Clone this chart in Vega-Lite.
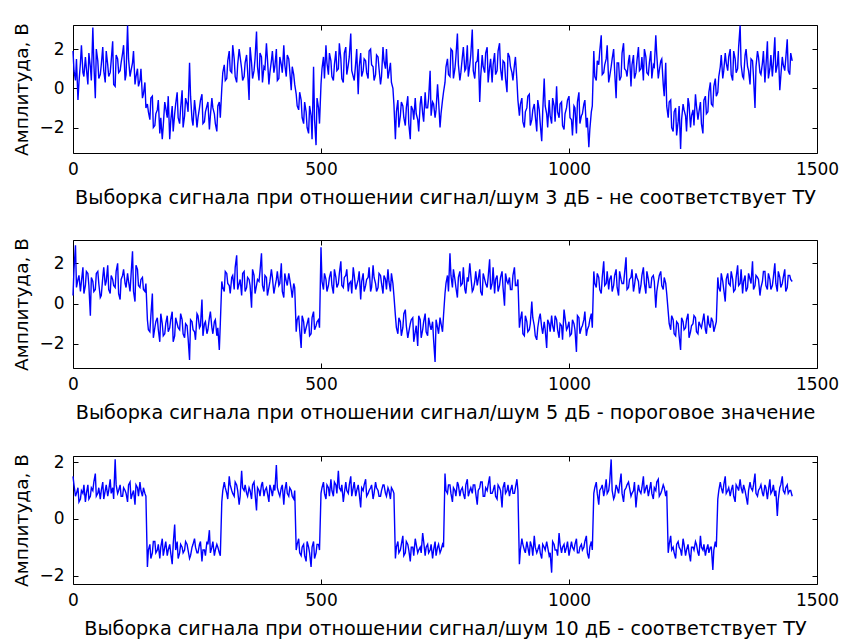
{
"$schema": "https://vega.github.io/schema/vega-lite/v6.json",
"background": "white",
"padding": {"left": 12, "top": 22, "right": 5, "bottom": 5},
"spacing": 29,
"config": {
 "view": {"stroke": "#000", "strokeWidth": 1},
 "axis": {"domain": false, "grid": false, "labelFont": "DejaVu Sans", "labelFontSize": 17, "labelColor": "#000", "labelFlush": false, "labelOverlap": false, "titleFont": "DejaVu Sans", "titleFontSize": 19.2, "titleFontWeight": "normal", "titleColor": "#000", "tickColor": "#000", "tickSize": -5, "tickWidth": 1},
 "axisX": {"format": "d"},
 "axisY": {"titleFontSize": 18.5}
},
"datasets": {
"s3": [
{"x":0,"y":1.9},{"x":5,"y":0.4},{"x":10,"y":-0.6},{"x":15,"y":1.3},{"x":20,"y":0.8},{"x":25,"y":1.6},{"x":30,"y":0.2},{"x":35,"y":1.1},{"x":40,"y":3.1},{"x":45,"y":-0.5},{"x":50,"y":1.4},{"x":55,"y":0.7},{"x":60,"y":2.1},{"x":65,"y":0.3},{"x":70,"y":1.2},{"x":75,"y":0.8},{"x":80,"y":2.4},{"x":85,"y":0.1},{"x":90,"y":1.5},{"x":95,"y":0.9},{"x":100,"y":1.8},{"x":105,"y":0.4},{"x":110,"y":3.2},{"x":115,"y":0.6},{"x":120,"y":1.3},{"x":125,"y":0.2},{"x":130,"y":1.0},{"x":135,"y":0.4},{"x":140,"y":-0.5},{"x":145,"y":0.3},
{"x":150,"y":-0.8},{"x":155,"y":-1.6},{"x":160,"y":-0.4},{"x":165,"y":-1.9},{"x":170,"y":-1.1},{"x":175,"y":-2.3},{"x":180,"y":-2.6},{"x":185,"y":-0.7},{"x":190,"y":-1.5},{"x":195,"y":-2.6},{"x":200,"y":-0.9},{"x":205,"y":-1.3},{"x":210,"y":-0.2},{"x":215,"y":-1.8},{"x":220,"y":-0.1},{"x":225,"y":-1.4},{"x":230,"y":-0.8},{"x":235,"y":1.3},{"x":240,"y":-1.6},{"x":245,"y":-0.6},{"x":250,"y":-2.0},{"x":255,"y":-1.0},{"x":260,"y":-0.3},{"x":265,"y":-1.7},{"x":270,"y":-0.9},{"x":275,"y":-2.1},{"x":280,"y":-0.5},{"x":285,"y":-1.3},{"x":290,"y":-2.2},{"x":295,"y":-0.7},
{"x":300,"y":0.0},{"x":305,"y":1.2},{"x":310,"y":0.5},{"x":315,"y":1.9},{"x":320,"y":0.8},{"x":325,"y":1.5},{"x":330,"y":0.3},{"x":335,"y":2.0},{"x":340,"y":1.0},{"x":345,"y":0.6},{"x":350,"y":1.7},{"x":355,"y":-0.6},{"x":360,"y":1.3},{"x":365,"y":0.9},{"x":370,"y":2.9},{"x":375,"y":0.4},{"x":380,"y":1.6},{"x":385,"y":1.1},{"x":390,"y":2.3},{"x":395,"y":0.2},{"x":400,"y":1.4},{"x":405,"y":0.8},{"x":410,"y":2.0},{"x":415,"y":0.5},{"x":420,"y":1.2},{"x":425,"y":2.2},{"x":430,"y":0.6},{"x":435,"y":1.5},{"x":440,"y":-0.1},{"x":445,"y":0.7},
{"x":450,"y":-0.3},{"x":455,"y":-1.1},{"x":460,"y":-0.6},{"x":465,"y":-1.8},{"x":470,"y":-1.2},{"x":475,"y":-2.3},{"x":480,"y":-1.4},{"x":485,"y":1.1},{"x":490,"y":-2.9},{"x":495,"y":-1.0},
{"x":500,"y":0.2},{"x":505,"y":1.6},{"x":510,"y":2.2},{"x":515,"y":0.7},{"x":520,"y":1.4},{"x":525,"y":0.4},{"x":530,"y":1.9},{"x":535,"y":1.0},{"x":540,"y":1.5},{"x":545,"y":0.3},{"x":550,"y":2.1},{"x":555,"y":1.2},{"x":560,"y":2.8},{"x":565,"y":0.6},{"x":570,"y":1.3},{"x":575,"y":-0.3},{"x":580,"y":1.8},{"x":585,"y":0.9},{"x":590,"y":1.4},{"x":595,"y":0.5},{"x":600,"y":2.0},{"x":605,"y":1.1},{"x":610,"y":0.7},{"x":615,"y":1.6},{"x":620,"y":0.2},{"x":625,"y":2.1},{"x":630,"y":1.0},{"x":635,"y":0.5},{"x":640,"y":1.3},{"x":645,"y":0.0},
{"x":650,"y":-2.6},{"x":655,"y":-0.6},{"x":660,"y":-1.4},{"x":665,"y":-0.9},{"x":670,"y":-1.9},{"x":675,"y":-0.4},{"x":680,"y":-2.6},{"x":685,"y":-1.1},{"x":690,"y":-0.5},{"x":695,"y":-1.6},{"x":700,"y":-0.8},{"x":705,"y":-1.3},{"x":710,"y":-0.2},{"x":715,"y":-1.0},{"x":720,"y":0.9},{"x":725,"y":-0.7},{"x":730,"y":-1.5},{"x":735,"y":0.2},{"x":740,"y":-2.0},{"x":745,"y":-0.6},
{"x":750,"y":0.3},{"x":755,"y":1.5},{"x":760,"y":0.6},{"x":765,"y":1.9},{"x":770,"y":1.0},{"x":775,"y":2.8},{"x":780,"y":0.4},{"x":785,"y":1.6},{"x":790,"y":0.9},{"x":795,"y":2.2},{"x":800,"y":1.2},{"x":805,"y":3.0},{"x":810,"y":0.5},{"x":815,"y":1.4},{"x":820,"y":-0.7},{"x":825,"y":1.7},{"x":830,"y":0.8},{"x":835,"y":2.1},{"x":840,"y":1.1},{"x":845,"y":0.3},{"x":850,"y":1.8},{"x":855,"y":0.9},{"x":860,"y":2.3},{"x":865,"y":0.4},{"x":870,"y":1.3},{"x":875,"y":-0.2},{"x":880,"y":1.6},{"x":885,"y":0.8},{"x":890,"y":1.2},{"x":895,"y":0.4},
{"x":900,"y":-1.4},{"x":905,"y":-0.5},{"x":910,"y":-2.0},{"x":915,"y":-1.0},{"x":920,"y":-0.3},{"x":925,"y":-1.6},{"x":930,"y":-0.8},{"x":935,"y":-2.2},{"x":940,"y":-1.1},{"x":945,"y":-2.7},{"x":950,"y":0.5},{"x":955,"y":-1.3},{"x":960,"y":-0.6},{"x":965,"y":-1.8},{"x":970,"y":-0.9},{"x":975,"y":0.1},{"x":980,"y":-1.5},{"x":985,"y":-0.7},{"x":990,"y":-2.1},{"x":995,"y":-1.0},{"x":1000,"y":-0.4},{"x":1005,"y":-1.6},{"x":1010,"y":-0.9},{"x":1015,"y":-2.3},{"x":1020,"y":-0.2},{"x":1025,"y":-1.4},{"x":1030,"y":-0.8},{"x":1035,"y":-2.0},{"x":1040,"y":-3.0},{"x":1045,"y":-1.2},
{"x":1050,"y":1.9},{"x":1055,"y":0.4},{"x":1060,"y":1.2},{"x":1065,"y":2.7},{"x":1070,"y":0.8},{"x":1075,"y":1.5},{"x":1080,"y":0.3},{"x":1085,"y":1.1},{"x":1090,"y":2.0},{"x":1095,"y":-0.5},{"x":1100,"y":1.3},{"x":1105,"y":0.6},{"x":1110,"y":2.3},{"x":1115,"y":0.9},{"x":1120,"y":1.4},{"x":1125,"y":0.1},{"x":1130,"y":1.7},{"x":1135,"y":0.8},{"x":1140,"y":2.1},{"x":1145,"y":1.0},{"x":1150,"y":0.4},{"x":1155,"y":1.6},{"x":1160,"y":0.7},{"x":1165,"y":1.9},{"x":1170,"y":1.2},{"x":1175,"y":2.7},{"x":1180,"y":0.5},{"x":1185,"y":1.4},{"x":1190,"y":0.2},{"x":1195,"y":1.3},
{"x":1200,"y":-1.5},{"x":1205,"y":-0.6},{"x":1210,"y":-2.2},{"x":1215,"y":-1.0},{"x":1220,"y":-1.7},{"x":1225,"y":-3.1},{"x":1230,"y":-0.8},{"x":1235,"y":-1.4},{"x":1240,"y":-0.5},{"x":1245,"y":-2.0},{"x":1250,"y":-1.1},{"x":1255,"y":-0.3},{"x":1260,"y":-1.6},{"x":1265,"y":-0.7},{"x":1270,"y":-2.3},{"x":1275,"y":-0.4},{"x":1280,"y":-1.2},{"x":1285,"y":0.3},{"x":1290,"y":-0.9},{"x":1295,"y":0.5},
{"x":1300,"y":-0.2},{"x":1305,"y":1.1},{"x":1310,"y":0.5},{"x":1315,"y":1.8},{"x":1320,"y":0.9},{"x":1325,"y":2.0},{"x":1330,"y":0.4},{"x":1335,"y":1.5},{"x":1340,"y":1.0},{"x":1345,"y":3.2},{"x":1350,"y":0.6},{"x":1355,"y":1.7},{"x":1360,"y":1.1},{"x":1365,"y":0.2},{"x":1370,"y":1.4},{"x":1375,"y":-1.0},{"x":1380,"y":1.9},{"x":1385,"y":0.8},{"x":1390,"y":1.3},{"x":1395,"y":0.3},{"x":1400,"y":2.4},{"x":1405,"y":1.0},{"x":1410,"y":0.6},{"x":1415,"y":2.6},{"x":1420,"y":1.2},{"x":1425,"y":-0.1},{"x":1430,"y":1.6},{"x":1435,"y":0.9},{"x":1440,"y":2.5},{"x":1445,"y":0.7},{"x":1450,"y":1.4},
{"x":2,"y":0.9},{"x":7,"y":1.5},{"x":12,"y":0.3},{"x":17,"y":2.2},{"x":22,"y":0.6},{"x":27,"y":1.0},{"x":32,"y":1.8},{"x":37,"y":0.4},{"x":42,"y":1.3},{"x":47,"y":2.0},{"x":52,"y":0.5},{"x":57,"y":1.2},{"x":62,"y":0.9},{"x":67,"y":1.9},{"x":72,"y":0.6},{"x":77,"y":1.4},{"x":82,"y":0.2},{"x":87,"y":1.7},{"x":92,"y":0.8},{"x":97,"y":1.3},{"x":102,"y":2.2},{"x":107,"y":0.7},{"x":112,"y":1.5},{"x":117,"y":0.9},{"x":122,"y":1.9},{"x":127,"y":0.6},{"x":132,"y":0.1},{"x":137,"y":1.0},{"x":142,"y":-0.3},{"x":147,"y":-1.0},
{"x":152,"y":-1.2},{"x":157,"y":-0.5},{"x":162,"y":-2.0},{"x":167,"y":-1.3},{"x":172,"y":-0.6},{"x":177,"y":-1.5},{"x":182,"y":-1.9},{"x":187,"y":-1.0},{"x":192,"y":-0.4},{"x":197,"y":-1.7},{"x":202,"y":-2.2},{"x":207,"y":-0.8},{"x":212,"y":-1.5},{"x":217,"y":-1.0},{"x":222,"y":-2.0},{"x":227,"y":-0.5},{"x":232,"y":-1.2},{"x":237,"y":-0.4},{"x":242,"y":-1.9},{"x":247,"y":-1.1},{"x":252,"y":-1.5},{"x":257,"y":-0.6},{"x":262,"y":-1.8},{"x":267,"y":-1.2},{"x":272,"y":-0.7},{"x":277,"y":-1.4},{"x":282,"y":-1.0},{"x":287,"y":-1.8},{"x":292,"y":-0.9},{"x":297,"y":-1.5},
{"x":302,"y":0.8},{"x":307,"y":0.4},{"x":312,"y":1.4},{"x":317,"y":0.9},{"x":322,"y":2.2},{"x":327,"y":0.6},{"x":332,"y":1.2},{"x":337,"y":1.6},{"x":342,"y":0.4},{"x":347,"y":1.3},{"x":352,"y":0.9},{"x":357,"y":2.1},{"x":362,"y":0.5},{"x":367,"y":1.5},{"x":372,"y":1.1},{"x":377,"y":1.8},{"x":382,"y":0.3},{"x":387,"y":1.0},{"x":392,"y":1.5},{"x":397,"y":0.8},{"x":402,"y":1.9},{"x":407,"y":1.1},{"x":412,"y":0.4},{"x":417,"y":1.6},{"x":422,"y":0.8},{"x":427,"y":1.2},{"x":432,"y":1.7},{"x":437,"y":0.9},{"x":442,"y":1.1},{"x":447,"y":0.2},
{"x":452,"y":-0.9},{"x":457,"y":-0.2},{"x":462,"y":-1.5},{"x":467,"y":-0.7},{"x":472,"y":-2.0},{"x":477,"y":-0.9},{"x":482,"y":-2.6},{"x":487,"y":-1.6},{"x":492,"y":-0.5},{"x":497,"y":-1.8},
{"x":502,"y":1.0},{"x":507,"y":0.5},{"x":512,"y":1.3},{"x":517,"y":1.8},{"x":522,"y":0.6},{"x":527,"y":1.2},{"x":532,"y":0.9},{"x":537,"y":2.3},{"x":542,"y":0.5},{"x":547,"y":1.8},{"x":552,"y":0.7},{"x":557,"y":1.6},{"x":562,"y":0.9},{"x":567,"y":0.4},{"x":572,"y":2.0},{"x":577,"y":1.1},{"x":582,"y":0.6},{"x":587,"y":1.5},{"x":592,"y":0.8},{"x":597,"y":1.9},{"x":602,"y":1.2},{"x":607,"y":0.4},{"x":612,"y":1.7},{"x":617,"y":1.0},{"x":622,"y":0.6},{"x":627,"y":1.4},{"x":632,"y":2.0},{"x":637,"y":0.8},{"x":642,"y":0.3},{"x":647,"y":-0.8},
{"x":652,"y":-1.2},{"x":657,"y":-2.0},{"x":662,"y":-0.7},{"x":667,"y":-1.5},{"x":672,"y":-1.0},{"x":677,"y":-1.8},{"x":682,"y":-0.9},{"x":687,"y":-1.6},{"x":692,"y":-1.3},{"x":697,"y":-2.2},{"x":702,"y":-0.4},{"x":707,"y":-1.7},{"x":712,"y":-1.0},{"x":717,"y":-0.5},{"x":722,"y":-1.4},{"x":727,"y":-0.8},{"x":732,"y":-1.1},{"x":737,"y":-0.6},{"x":742,"y":-1.3},{"x":747,"y":-0.2},
{"x":752,"y":1.1},{"x":757,"y":0.7},{"x":762,"y":2.0},{"x":767,"y":0.5},{"x":772,"y":1.6},{"x":777,"y":1.2},{"x":782,"y":0.8},{"x":787,"y":2.1},{"x":792,"y":1.0},{"x":797,"y":0.6},{"x":802,"y":1.7},{"x":807,"y":0.9},{"x":812,"y":1.3},{"x":817,"y":2.0},{"x":822,"y":0.6},{"x":827,"y":1.1},{"x":832,"y":1.8},{"x":837,"y":0.3},{"x":842,"y":1.5},{"x":847,"y":1.2},{"x":852,"y":0.7},{"x":857,"y":1.9},{"x":862,"y":1.0},{"x":867,"y":1.4},{"x":872,"y":0.5},{"x":877,"y":1.8},{"x":882,"y":1.1},{"x":887,"y":0.4},{"x":892,"y":1.6},{"x":897,"y":-0.6},
{"x":902,"y":-0.8},{"x":907,"y":-1.7},{"x":912,"y":-1.2},{"x":917,"y":-0.4},{"x":922,"y":-1.9},{"x":927,"y":-1.1},{"x":932,"y":-1.4},{"x":937,"y":-0.6},{"x":942,"y":-1.8},{"x":947,"y":-1.2},{"x":952,"y":-0.9},{"x":957,"y":-2.0},{"x":962,"y":-1.4},{"x":967,"y":-0.5},{"x":972,"y":-1.7},{"x":977,"y":-1.2},{"x":982,"y":-0.8},{"x":987,"y":-1.9},{"x":992,"y":-1.3},{"x":997,"y":-0.6},{"x":1002,"y":-1.5},{"x":1007,"y":-2.4},{"x":1012,"y":-1.0},{"x":1017,"y":-0.7},{"x":1022,"y":-1.8},{"x":1027,"y":-1.3},{"x":1032,"y":-0.6},{"x":1037,"y":-1.5},{"x":1042,"y":-2.1},{"x":1047,"y":-0.9},
{"x":1052,"y":0.6},{"x":1057,"y":1.4},{"x":1062,"y":1.9},{"x":1067,"y":0.7},{"x":1072,"y":1.2},{"x":1077,"y":2.2},{"x":1082,"y":0.6},{"x":1087,"y":1.5},{"x":1092,"y":0.9},{"x":1097,"y":1.3},{"x":1102,"y":0.4},{"x":1107,"y":1.8},{"x":1112,"y":1.0},{"x":1117,"y":0.6},{"x":1122,"y":1.7},{"x":1127,"y":1.2},{"x":1132,"y":0.5},{"x":1137,"y":1.4},{"x":1142,"y":0.9},{"x":1147,"y":1.6},{"x":1152,"y":2.0},{"x":1157,"y":0.8},{"x":1162,"y":1.3},{"x":1167,"y":0.5},{"x":1172,"y":1.1},{"x":1177,"y":1.7},{"x":1182,"y":0.9},{"x":1187,"y":1.5},{"x":1192,"y":-0.4},{"x":1197,"y":-0.9},
{"x":1202,"y":-0.7},{"x":1207,"y":-2.0},{"x":1212,"y":-1.2},{"x":1217,"y":-2.4},{"x":1222,"y":-0.9},{"x":1227,"y":-1.6},{"x":1232,"y":-1.1},{"x":1237,"y":-2.2},{"x":1242,"y":-0.8},{"x":1247,"y":-1.4},{"x":1252,"y":-1.9},{"x":1257,"y":-0.9},{"x":1262,"y":-1.2},{"x":1267,"y":-1.8},{"x":1272,"y":-0.6},{"x":1277,"y":-1.3},{"x":1282,"y":-0.2},{"x":1287,"y":-0.8},{"x":1292,"y":0.1},{"x":1297,"y":-0.4},
{"x":1302,"y":0.6},{"x":1307,"y":1.7},{"x":1312,"y":0.9},{"x":1317,"y":1.3},{"x":1322,"y":1.6},{"x":1327,"y":0.7},{"x":1332,"y":1.9},{"x":1337,"y":0.8},{"x":1342,"y":2.1},{"x":1347,"y":1.2},{"x":1352,"y":0.5},{"x":1357,"y":2.0},{"x":1362,"y":0.9},{"x":1367,"y":1.5},{"x":1372,"y":0.6},{"x":1377,"y":1.1},{"x":1382,"y":1.6},{"x":1387,"y":0.7},{"x":1392,"y":1.9},{"x":1397,"y":1.1},{"x":1402,"y":0.5},{"x":1407,"y":1.7},{"x":1412,"y":1.3},{"x":1417,"y":0.8},{"x":1422,"y":1.9},{"x":1427,"y":0.6},{"x":1432,"y":1.2},{"x":1437,"y":1.5},{"x":1442,"y":0.9},{"x":1447,"y":1.8}
],
"s5": [
{"x":0,"y":0.4},{"x":5,"y":2.9},{"x":10,"y":1.2},{"x":15,"y":0.6},{"x":20,"y":1.8},{"x":25,"y":0.9},{"x":30,"y":1.5},{"x":35,"y":-0.6},{"x":40,"y":1.1},{"x":45,"y":0.7},{"x":50,"y":1.6},{"x":55,"y":0.3},{"x":60,"y":1.3},{"x":65,"y":0.9},{"x":70,"y":1.9},{"x":75,"y":0.5},{"x":80,"y":1.2},{"x":85,"y":0.8},{"x":90,"y":2.0},{"x":95,"y":0.2},{"x":100,"y":1.4},{"x":105,"y":1.0},{"x":110,"y":1.5},{"x":115,"y":0.6},{"x":120,"y":2.6},{"x":125,"y":0.1},{"x":130,"y":1.7},{"x":135,"y":0.8},{"x":140,"y":1.3},{"x":145,"y":0.6},
{"x":150,"y":-0.8},{"x":155,"y":-1.4},{"x":160,"y":0.5},{"x":165,"y":-1.2},{"x":170,"y":-0.7},{"x":175,"y":-1.9},{"x":180,"y":-1.0},{"x":185,"y":-1.5},{"x":190,"y":-0.6},{"x":195,"y":-1.2},{"x":200,"y":-0.4},{"x":205,"y":-1.6},{"x":210,"y":-1.0},{"x":215,"y":-1.3},{"x":220,"y":-0.8},{"x":225,"y":-1.7},{"x":230,"y":-1.1},{"x":235,"y":-2.8},{"x":240,"y":-0.9},{"x":245,"y":-1.4},{"x":250,"y":-0.5},{"x":255,"y":-1.2},{"x":260,"y":0.2},{"x":265,"y":-1.0},{"x":270,"y":-1.5},{"x":275,"y":-0.7},{"x":280,"y":-1.2},{"x":285,"y":-0.9},{"x":290,"y":-1.6},{"x":295,"y":-2.3},
{"x":300,"y":1.1},{"x":305,"y":0.6},{"x":310,"y":1.5},{"x":315,"y":0.9},{"x":320,"y":1.3},{"x":325,"y":0.7},{"x":330,"y":2.4},{"x":335,"y":1.0},{"x":340,"y":0.4},{"x":345,"y":1.6},{"x":350,"y":0.8},{"x":355,"y":1.2},{"x":360,"y":-0.2},{"x":365,"y":1.4},{"x":370,"y":0.9},{"x":375,"y":1.1},{"x":380,"y":2.5},{"x":385,"y":0.6},{"x":390,"y":1.3},{"x":395,"y":0.8},{"x":400,"y":1.7},{"x":405,"y":0.5},{"x":410,"y":1.2},{"x":415,"y":0.9},{"x":420,"y":2.0},{"x":425,"y":0.3},{"x":430,"y":1.1},{"x":435,"y":1.5},{"x":440,"y":0.7},{"x":445,"y":1.0},
{"x":450,"y":-1.4},{"x":455,"y":-0.6},{"x":460,"y":-2.2},{"x":465,"y":-0.9},{"x":470,"y":-1.2},{"x":475,"y":-0.7},{"x":480,"y":-1.5},{"x":485,"y":-0.4},{"x":490,"y":-1.1},{"x":495,"y":-0.8},
{"x":500,"y":2.8},{"x":505,"y":0.7},{"x":510,"y":1.2},{"x":515,"y":0.9},{"x":520,"y":1.6},{"x":525,"y":0.5},{"x":530,"y":1.3},{"x":535,"y":1.0},{"x":540,"y":2.1},{"x":545,"y":0.8},{"x":550,"y":1.4},{"x":555,"y":0.6},{"x":560,"y":1.1},{"x":565,"y":1.8},{"x":570,"y":0.7},{"x":575,"y":1.2},{"x":580,"y":0.2},{"x":585,"y":1.5},{"x":590,"y":0.9},{"x":595,"y":1.3},{"x":600,"y":0.6},{"x":605,"y":1.9},{"x":610,"y":1.0},{"x":615,"y":0.8},{"x":620,"y":1.4},{"x":625,"y":0.5},{"x":630,"y":1.2},{"x":635,"y":1.7},{"x":640,"y":0.6},{"x":645,"y":1.0},
{"x":650,"y":-0.6},{"x":655,"y":-1.5},{"x":660,"y":-0.9},{"x":665,"y":-1.2},{"x":670,"y":-0.3},{"x":675,"y":-1.7},{"x":680,"y":-1.0},{"x":685,"y":-0.7},{"x":690,"y":-1.4},{"x":695,"y":-2.1},{"x":700,"y":-0.8},{"x":705,"y":-1.3},{"x":710,"y":-0.5},{"x":715,"y":-1.6},{"x":720,"y":-1.1},{"x":725,"y":-0.9},{"x":730,"y":-2.9},{"x":735,"y":-1.2},{"x":740,"y":-0.7},{"x":745,"y":-1.4},
{"x":750,"y":0.5},{"x":755,"y":1.4},{"x":760,"y":2.5},{"x":765,"y":0.8},{"x":770,"y":1.2},{"x":775,"y":0.3},{"x":780,"y":1.6},{"x":785,"y":1.0},{"x":790,"y":0.7},{"x":795,"y":1.3},{"x":800,"y":2.0},{"x":805,"y":0.6},{"x":810,"y":1.1},{"x":815,"y":0.9},{"x":820,"y":1.7},{"x":825,"y":0.4},{"x":830,"y":1.2},{"x":835,"y":0.8},{"x":840,"y":2.2},{"x":845,"y":1.0},{"x":850,"y":0.5},{"x":855,"y":1.4},{"x":860,"y":0.9},{"x":865,"y":1.6},{"x":870,"y":-0.1},{"x":875,"y":1.1},{"x":880,"y":1.3},{"x":885,"y":0.7},{"x":890,"y":1.8},{"x":895,"y":0.9},
{"x":900,"y":-1.2},{"x":905,"y":-0.4},{"x":910,"y":-1.6},{"x":915,"y":-0.9},{"x":920,"y":-1.3},{"x":925,"y":0.1},{"x":930,"y":-1.1},{"x":935,"y":-1.8},{"x":940,"y":-0.7},{"x":945,"y":-1.2},{"x":950,"y":-0.9},{"x":955,"y":-2.2},{"x":960,"y":-1.0},{"x":965,"y":-0.6},{"x":970,"y":-1.4},{"x":975,"y":-0.8},{"x":980,"y":-1.7},{"x":985,"y":-1.1},{"x":990,"y":-0.3},{"x":995,"y":-1.3},{"x":1000,"y":-0.9},{"x":1005,"y":-1.5},{"x":1010,"y":-1.0},{"x":1015,"y":-2.4},{"x":1020,"y":-0.7},{"x":1025,"y":-1.2},{"x":1030,"y":-0.8},{"x":1035,"y":-1.6},{"x":1040,"y":-1.1},{"x":1045,"y":-0.5},
{"x":1050,"y":1.6},{"x":1055,"y":0.8},{"x":1060,"y":1.3},{"x":1065,"y":0.5},{"x":1070,"y":2.1},{"x":1075,"y":1.0},{"x":1080,"y":0.7},{"x":1085,"y":1.4},{"x":1090,"y":0.9},{"x":1095,"y":1.7},{"x":1100,"y":0.4},{"x":1105,"y":1.2},{"x":1110,"y":1.0},{"x":1115,"y":2.3},{"x":1120,"y":0.8},{"x":1125,"y":1.3},{"x":1130,"y":0.6},{"x":1135,"y":1.5},{"x":1140,"y":1.1},{"x":1145,"y":0.9},{"x":1150,"y":1.8},{"x":1155,"y":0.5},{"x":1160,"y":1.2},{"x":1165,"y":0.8},{"x":1170,"y":1.4},{"x":1175,"y":-0.2},{"x":1180,"y":1.1},{"x":1185,"y":1.6},{"x":1190,"y":0.7},{"x":1195,"y":1.0},
{"x":1200,"y":-0.4},{"x":1205,"y":-1.3},{"x":1210,"y":-0.8},{"x":1215,"y":-1.6},{"x":1220,"y":-1.0},{"x":1225,"y":-2.3},{"x":1230,"y":-0.9},{"x":1235,"y":-1.2},{"x":1240,"y":-0.5},{"x":1245,"y":-1.4},{"x":1250,"y":-1.0},{"x":1255,"y":-0.7},{"x":1260,"y":-1.5},{"x":1265,"y":-1.1},{"x":1270,"y":-0.8},{"x":1275,"y":-1.3},{"x":1280,"y":-0.6},{"x":1285,"y":-1.2},{"x":1290,"y":-0.9},{"x":1295,"y":-1.1},
{"x":1300,"y":1.3},{"x":1305,"y":0.6},{"x":1310,"y":1.1},{"x":1315,"y":0.1},{"x":1320,"y":1.5},{"x":1325,"y":0.9},{"x":1330,"y":1.2},{"x":1335,"y":0.7},{"x":1340,"y":1.9},{"x":1345,"y":1.0},{"x":1350,"y":0.5},{"x":1355,"y":1.4},{"x":1360,"y":0.8},{"x":1365,"y":1.2},{"x":1370,"y":2.1},{"x":1375,"y":0.9},{"x":1380,"y":1.3},{"x":1385,"y":0.4},{"x":1390,"y":1.1},{"x":1395,"y":1.6},{"x":1400,"y":0.7},{"x":1405,"y":1.2},{"x":1410,"y":0.9},{"x":1415,"y":2.0},{"x":1420,"y":0.6},{"x":1425,"y":1.3},{"x":1430,"y":1.0},{"x":1435,"y":1.7},{"x":1440,"y":0.8},{"x":1445,"y":1.4},{"x":1450,"y":1.1},
{"x":2,"y":1.7},{"x":7,"y":0.8},{"x":12,"y":1.4},{"x":17,"y":1.1},{"x":22,"y":0.5},{"x":27,"y":1.6},{"x":32,"y":0.9},{"x":37,"y":1.3},{"x":42,"y":0.6},{"x":47,"y":1.5},{"x":52,"y":1.0},{"x":57,"y":0.4},{"x":62,"y":1.8},{"x":67,"y":1.1},{"x":72,"y":0.7},{"x":77,"y":1.4},{"x":82,"y":0.9},{"x":87,"y":1.6},{"x":92,"y":0.5},{"x":97,"y":1.2},{"x":102,"y":1.7},{"x":107,"y":0.8},{"x":112,"y":1.1},{"x":117,"y":1.4},{"x":122,"y":0.6},{"x":127,"y":1.9},{"x":132,"y":0.9},{"x":137,"y":1.2},{"x":142,"y":0.7},{"x":147,"y":1.0},
{"x":152,"y":-1.3},{"x":157,"y":-0.6},{"x":162,"y":-1.7},{"x":167,"y":-0.9},{"x":172,"y":-1.3},{"x":177,"y":-0.5},{"x":182,"y":-1.6},{"x":187,"y":-1.0},{"x":192,"y":-1.4},{"x":197,"y":-0.8},{"x":202,"y":-1.9},{"x":207,"y":-0.7},{"x":212,"y":-1.2},{"x":217,"y":-0.5},{"x":222,"y":-1.5},{"x":227,"y":-1.0},{"x":232,"y":-1.7},{"x":237,"y":-0.8},{"x":242,"y":-1.3},{"x":247,"y":-1.8},{"x":252,"y":-0.6},{"x":257,"y":-1.1},{"x":262,"y":-1.6},{"x":267,"y":-0.9},{"x":272,"y":-1.3},{"x":277,"y":-0.4},{"x":282,"y":-1.5},{"x":287,"y":-0.8},{"x":292,"y":-1.2},{"x":297,"y":-1.0},
{"x":302,"y":0.8},{"x":307,"y":1.6},{"x":312,"y":1.0},{"x":317,"y":0.5},{"x":322,"y":1.4},{"x":327,"y":1.8},{"x":332,"y":0.7},{"x":337,"y":1.2},{"x":342,"y":1.5},{"x":347,"y":0.6},{"x":352,"y":1.3},{"x":357,"y":0.9},{"x":362,"y":1.7},{"x":367,"y":0.5},{"x":372,"y":1.2},{"x":377,"y":1.6},{"x":382,"y":0.9},{"x":387,"y":1.4},{"x":392,"y":0.4},{"x":397,"y":1.1},{"x":402,"y":1.3},{"x":407,"y":0.8},{"x":412,"y":1.6},{"x":417,"y":1.0},{"x":422,"y":0.6},{"x":427,"y":1.5},{"x":432,"y":0.9},{"x":437,"y":1.2},{"x":442,"y":0.3},{"x":447,"y":0.8},
{"x":452,"y":-0.8},{"x":457,"y":-1.3},{"x":462,"y":-0.6},{"x":467,"y":-1.5},{"x":472,"y":-1.0},{"x":477,"y":-1.6},{"x":482,"y":-0.7},{"x":487,"y":-1.3},{"x":492,"y":-0.9},{"x":497,"y":-1.2},
{"x":502,"y":1.1},{"x":507,"y":1.5},{"x":512,"y":0.6},{"x":517,"y":1.3},{"x":522,"y":0.9},{"x":527,"y":1.7},{"x":532,"y":0.8},{"x":537,"y":1.5},{"x":542,"y":0.9},{"x":547,"y":1.3},{"x":552,"y":1.7},{"x":557,"y":1.0},{"x":562,"y":0.5},{"x":567,"y":1.4},{"x":572,"y":0.9},{"x":577,"y":1.6},{"x":582,"y":1.1},{"x":587,"y":0.6},{"x":592,"y":1.2},{"x":597,"y":1.8},{"x":602,"y":0.8},{"x":607,"y":1.3},{"x":612,"y":0.6},{"x":617,"y":1.5},{"x":622,"y":1.0},{"x":627,"y":1.4},{"x":632,"y":0.7},{"x":637,"y":1.1},{"x":642,"y":1.5},{"x":647,"y":0.4},
{"x":652,"y":-1.2},{"x":657,"y":-0.7},{"x":662,"y":-1.6},{"x":667,"y":-0.5},{"x":672,"y":-1.1},{"x":677,"y":-1.4},{"x":682,"y":-0.8},{"x":687,"y":-1.9},{"x":692,"y":-1.1},{"x":697,"y":-0.6},{"x":702,"y":-1.7},{"x":707,"y":-0.9},{"x":712,"y":-1.4},{"x":717,"y":-0.7},{"x":722,"y":-1.3},{"x":727,"y":-1.8},{"x":732,"y":-0.8},{"x":737,"y":-1.5},{"x":742,"y":-1.0},{"x":747,"y":-0.6},
{"x":752,"y":1.0},{"x":757,"y":0.6},{"x":762,"y":1.4},{"x":767,"y":1.7},{"x":772,"y":0.8},{"x":777,"y":1.3},{"x":782,"y":0.9},{"x":787,"y":1.8},{"x":792,"y":0.5},{"x":797,"y":1.1},{"x":802,"y":1.4},{"x":807,"y":0.7},{"x":812,"y":1.6},{"x":817,"y":1.2},{"x":822,"y":0.6},{"x":827,"y":1.5},{"x":832,"y":1.0},{"x":837,"y":1.3},{"x":842,"y":0.7},{"x":847,"y":1.8},{"x":852,"y":1.2},{"x":857,"y":0.6},{"x":862,"y":1.3},{"x":867,"y":0.8},{"x":872,"y":1.5},{"x":877,"y":1.0},{"x":882,"y":0.7},{"x":887,"y":1.4},{"x":892,"y":0.9},{"x":897,"y":1.2},
{"x":902,"y":-0.8},{"x":907,"y":-1.5},{"x":912,"y":-0.6},{"x":917,"y":-1.4},{"x":922,"y":-1.0},{"x":927,"y":-0.7},{"x":932,"y":-1.6},{"x":937,"y":-1.2},{"x":942,"y":-0.5},{"x":947,"y":-1.5},{"x":952,"y":-1.3},{"x":957,"y":-0.8},{"x":962,"y":-1.4},{"x":967,"y":-1.1},{"x":972,"y":-0.6},{"x":977,"y":-1.3},{"x":982,"y":-1.0},{"x":987,"y":-1.8},{"x":992,"y":-0.7},{"x":997,"y":-1.2},{"x":1002,"y":-1.6},{"x":1007,"y":-0.8},{"x":1012,"y":-1.3},{"x":1017,"y":-0.6},{"x":1022,"y":-1.5},{"x":1027,"y":-1.1},{"x":1032,"y":-0.4},{"x":1037,"y":-1.3},{"x":1042,"y":-0.8},{"x":1047,"y":-1.2},
{"x":1052,"y":1.0},{"x":1057,"y":1.5},{"x":1062,"y":0.7},{"x":1067,"y":1.3},{"x":1072,"y":0.9},{"x":1077,"y":1.6},{"x":1082,"y":1.2},{"x":1087,"y":0.6},{"x":1092,"y":1.4},{"x":1097,"y":0.8},{"x":1102,"y":1.6},{"x":1107,"y":1.0},{"x":1112,"y":1.5},{"x":1117,"y":0.7},{"x":1122,"y":1.2},{"x":1127,"y":1.7},{"x":1132,"y":0.9},{"x":1137,"y":1.3},{"x":1142,"y":0.5},{"x":1147,"y":1.4},{"x":1152,"y":1.0},{"x":1157,"y":1.6},{"x":1162,"y":0.8},{"x":1167,"y":1.3},{"x":1172,"y":1.1},{"x":1177,"y":0.6},{"x":1182,"y":1.4},{"x":1187,"y":0.9},{"x":1192,"y":1.3},{"x":1197,"y":0.5},
{"x":1202,"y":-1.0},{"x":1207,"y":-0.6},{"x":1212,"y":-1.5},{"x":1217,"y":-0.9},{"x":1222,"y":-1.6},{"x":1227,"y":-0.7},{"x":1232,"y":-1.3},{"x":1237,"y":-0.8},{"x":1242,"y":-1.7},{"x":1247,"y":-1.1},{"x":1252,"y":-0.6},{"x":1257,"y":-1.4},{"x":1262,"y":-0.9},{"x":1267,"y":-1.2},{"x":1272,"y":-0.5},{"x":1277,"y":-1.5},{"x":1282,"y":-1.0},{"x":1287,"y":-0.7},{"x":1292,"y":-1.4},{"x":1297,"y":-0.9},
{"x":1302,"y":0.8},{"x":1307,"y":1.5},{"x":1312,"y":0.7},{"x":1317,"y":1.2},{"x":1322,"y":1.0},{"x":1327,"y":1.6},{"x":1332,"y":0.6},{"x":1337,"y":1.3},{"x":1342,"y":0.9},{"x":1347,"y":1.7},{"x":1352,"y":1.1},{"x":1357,"y":0.6},{"x":1362,"y":1.5},{"x":1367,"y":1.0},{"x":1372,"y":0.7},{"x":1377,"y":1.4},{"x":1382,"y":1.2},{"x":1387,"y":0.8},{"x":1392,"y":1.6},{"x":1397,"y":0.9},{"x":1402,"y":1.5},{"x":1407,"y":0.7},{"x":1412,"y":1.3},{"x":1417,"y":1.0},{"x":1422,"y":1.6},{"x":1427,"y":0.8},{"x":1432,"y":1.3},{"x":1437,"y":0.6},{"x":1442,"y":1.4},{"x":1447,"y":1.2}
],
"s10": [
{"x":0,"y":1.5},{"x":5,"y":0.8},{"x":10,"y":1.1},{"x":15,"y":0.7},{"x":20,"y":0.9},{"x":25,"y":0.6},{"x":30,"y":1.2},{"x":35,"y":0.8},{"x":40,"y":1.0},{"x":45,"y":1.6},{"x":50,"y":0.9},{"x":55,"y":0.7},{"x":60,"y":1.3},{"x":65,"y":1.0},{"x":70,"y":0.8},{"x":75,"y":1.4},{"x":80,"y":1.1},{"x":85,"y":2.1},{"x":90,"y":0.9},{"x":95,"y":1.2},{"x":100,"y":0.8},{"x":105,"y":1.0},{"x":110,"y":0.6},{"x":115,"y":1.3},{"x":120,"y":0.9},{"x":125,"y":0.5},{"x":130,"y":1.1},{"x":135,"y":1.3},{"x":140,"y":0.8},{"x":145,"y":0.9},
{"x":150,"y":-1.7},{"x":155,"y":-0.9},{"x":160,"y":-1.2},{"x":165,"y":-0.8},{"x":170,"y":-1.1},{"x":175,"y":-1.4},{"x":180,"y":-0.7},{"x":185,"y":-1.0},{"x":190,"y":-1.3},{"x":195,"y":-0.9},{"x":200,"y":-1.6},{"x":205,"y":-0.2},{"x":210,"y":-0.8},{"x":215,"y":-1.2},{"x":220,"y":-1.0},{"x":225,"y":-1.1},{"x":230,"y":-0.9},{"x":235,"y":-1.4},{"x":240,"y":-1.0},{"x":245,"y":-0.7},{"x":250,"y":-1.2},{"x":255,"y":-0.9},{"x":260,"y":-1.5},{"x":265,"y":-1.1},{"x":270,"y":-0.8},{"x":275,"y":-0.4},{"x":280,"y":-1.0},{"x":285,"y":-1.3},{"x":290,"y":-0.9},{"x":295,"y":-1.2},
{"x":300,"y":0.6},{"x":305,"y":1.3},{"x":310,"y":0.9},{"x":315,"y":1.5},{"x":320,"y":1.0},{"x":325,"y":0.8},{"x":330,"y":1.2},{"x":335,"y":0.5},{"x":340,"y":1.7},{"x":345,"y":1.0},{"x":350,"y":0.9},{"x":355,"y":1.1},{"x":360,"y":0.7},{"x":365,"y":1.3},{"x":370,"y":0.3},{"x":375,"y":1.0},{"x":380,"y":1.2},{"x":385,"y":0.8},{"x":390,"y":1.1},{"x":395,"y":0.6},{"x":400,"y":1.0},{"x":405,"y":1.2},{"x":410,"y":1.9},{"x":415,"y":0.9},{"x":420,"y":1.1},{"x":425,"y":0.5},{"x":430,"y":1.3},{"x":435,"y":0.8},{"x":440,"y":1.0},{"x":445,"y":0.7},
{"x":450,"y":-1.1},{"x":455,"y":-0.7},{"x":460,"y":-1.3},{"x":465,"y":-0.9},{"x":470,"y":-1.5},{"x":475,"y":-1.0},{"x":480,"y":-1.7},{"x":485,"y":-0.8},{"x":490,"y":-1.2},{"x":495,"y":-0.9},
{"x":500,"y":0.9},{"x":505,"y":1.3},{"x":510,"y":0.7},{"x":515,"y":1.1},{"x":520,"y":1.4},{"x":525,"y":0.8},{"x":530,"y":1.2},{"x":535,"y":1.7},{"x":540,"y":1.0},{"x":545,"y":0.6},{"x":550,"y":1.3},{"x":555,"y":0.9},{"x":560,"y":1.5},{"x":565,"y":1.1},{"x":570,"y":0.8},{"x":575,"y":1.2},{"x":580,"y":0.4},{"x":585,"y":1.0},{"x":590,"y":1.4},{"x":595,"y":0.9},{"x":600,"y":1.1},{"x":605,"y":0.7},{"x":610,"y":1.3},{"x":615,"y":1.0},{"x":620,"y":0.8},{"x":625,"y":1.2},{"x":630,"y":0.9},{"x":635,"y":1.1},{"x":640,"y":0.7},{"x":645,"y":1.0},
{"x":650,"y":-1.4},{"x":655,"y":-0.8},{"x":660,"y":-1.1},{"x":665,"y":-0.6},{"x":670,"y":-1.2},{"x":675,"y":-0.9},{"x":680,"y":-1.5},{"x":685,"y":-1.0},{"x":690,"y":-0.7},{"x":695,"y":-1.2},{"x":700,"y":-1.0},{"x":705,"y":-0.5},{"x":710,"y":-1.3},{"x":715,"y":-0.9},{"x":720,"y":-1.1},{"x":725,"y":-1.4},{"x":730,"y":-0.8},{"x":735,"y":-1.0},{"x":740,"y":-1.2},{"x":745,"y":-0.9},
{"x":750,"y":1.6},{"x":755,"y":0.9},{"x":760,"y":1.2},{"x":765,"y":0.6},{"x":770,"y":1.0},{"x":775,"y":1.3},{"x":780,"y":0.8},{"x":785,"y":1.1},{"x":790,"y":0.7},{"x":795,"y":1.4},{"x":800,"y":1.0},{"x":805,"y":0.9},{"x":810,"y":1.2},{"x":815,"y":0.5},{"x":820,"y":1.1},{"x":825,"y":1.3},{"x":830,"y":0.8},{"x":835,"y":1.0},{"x":840,"y":1.5},{"x":845,"y":0.9},{"x":850,"y":1.2},{"x":855,"y":0.7},{"x":860,"y":1.1},{"x":865,"y":0.4},{"x":870,"y":1.3},{"x":875,"y":1.0},{"x":880,"y":0.8},{"x":885,"y":1.2},{"x":890,"y":0.9},{"x":895,"y":1.4},
{"x":900,"y":-1.6},{"x":905,"y":-0.7},{"x":910,"y":-1.1},{"x":915,"y":-0.8},{"x":920,"y":-1.3},{"x":925,"y":-1.0},{"x":930,"y":-0.6},{"x":935,"y":-1.2},{"x":940,"y":-0.9},{"x":945,"y":-1.4},{"x":950,"y":-1.0},{"x":955,"y":-0.8},{"x":960,"y":-1.3},{"x":965,"y":-1.9},{"x":970,"y":-0.9},{"x":975,"y":-1.1},{"x":980,"y":-0.5},{"x":985,"y":-1.2},{"x":990,"y":-0.9},{"x":995,"y":-1.0},{"x":1000,"y":-1.3},{"x":1005,"y":-0.8},{"x":1010,"y":-1.1},{"x":1015,"y":-0.7},{"x":1020,"y":-1.2},{"x":1025,"y":-0.9},{"x":1030,"y":-1.0},{"x":1035,"y":-0.6},{"x":1040,"y":-1.4},{"x":1045,"y":-0.8},
{"x":1050,"y":0.9},{"x":1055,"y":1.3},{"x":1060,"y":0.5},{"x":1065,"y":1.1},{"x":1070,"y":0.8},{"x":1075,"y":1.4},{"x":1080,"y":1.0},{"x":1085,"y":2.1},{"x":1090,"y":0.7},{"x":1095,"y":1.2},{"x":1100,"y":0.9},{"x":1105,"y":1.6},{"x":1110,"y":0.6},{"x":1115,"y":1.1},{"x":1120,"y":1.3},{"x":1125,"y":0.8},{"x":1130,"y":1.0},{"x":1135,"y":0.4},{"x":1140,"y":1.2},{"x":1145,"y":0.9},{"x":1150,"y":1.5},{"x":1155,"y":1.1},{"x":1160,"y":0.8},{"x":1165,"y":1.3},{"x":1170,"y":0.7},{"x":1175,"y":1.0},{"x":1180,"y":1.4},{"x":1185,"y":0.9},{"x":1190,"y":1.2},{"x":1195,"y":0.8},
{"x":1200,"y":-1.2},{"x":1205,"y":-0.6},{"x":1210,"y":-1.0},{"x":1215,"y":-1.4},{"x":1220,"y":-0.8},{"x":1225,"y":-1.1},{"x":1230,"y":-0.7},{"x":1235,"y":-1.3},{"x":1240,"y":-0.9},{"x":1245,"y":-1.5},{"x":1250,"y":-1.0},{"x":1255,"y":-0.8},{"x":1260,"y":-1.2},{"x":1265,"y":-0.6},{"x":1270,"y":-1.1},{"x":1275,"y":-1.3},{"x":1280,"y":-0.9},{"x":1285,"y":-1.0},{"x":1290,"y":-1.8},{"x":1295,"y":-0.8},
{"x":1300,"y":0.7},{"x":1305,"y":1.3},{"x":1310,"y":0.9},{"x":1315,"y":1.5},{"x":1320,"y":1.0},{"x":1325,"y":0.8},{"x":1330,"y":1.2},{"x":1335,"y":0.6},{"x":1340,"y":1.1},{"x":1345,"y":1.4},{"x":1350,"y":0.9},{"x":1355,"y":1.0},{"x":1360,"y":0.5},{"x":1365,"y":1.3},{"x":1370,"y":1.0},{"x":1375,"y":1.6},{"x":1380,"y":0.8},{"x":1385,"y":1.1},{"x":1390,"y":0.9},{"x":1395,"y":1.2},{"x":1400,"y":0.7},{"x":1405,"y":1.4},{"x":1410,"y":1.0},{"x":1415,"y":0.8},{"x":1420,"y":0.1},{"x":1425,"y":1.1},{"x":1430,"y":1.5},{"x":1435,"y":0.9},{"x":1440,"y":1.2},{"x":1445,"y":1.0},{"x":1450,"y":0.8},
{"x":2,"y":1.2},{"x":7,"y":0.9},{"x":12,"y":0.6},{"x":17,"y":1.0},{"x":22,"y":1.2},{"x":27,"y":0.9},{"x":32,"y":0.7},{"x":37,"y":1.1},{"x":42,"y":1.3},{"x":47,"y":0.8},{"x":52,"y":1.1},{"x":57,"y":1.0},{"x":62,"y":0.7},{"x":67,"y":1.2},{"x":72,"y":1.0},{"x":77,"y":0.9},{"x":82,"y":0.7},{"x":87,"y":1.2},{"x":92,"y":1.0},{"x":97,"y":0.8},{"x":102,"y":1.1},{"x":107,"y":0.9},{"x":112,"y":1.2},{"x":117,"y":0.7},{"x":122,"y":1.0},{"x":127,"y":1.2},{"x":132,"y":0.8},{"x":137,"y":1.0},{"x":142,"y":1.1},{"x":147,"y":0.8},
{"x":152,"y":-1.1},{"x":157,"y":-1.4},{"x":162,"y":-0.8},{"x":167,"y":-1.2},{"x":172,"y":-0.9},{"x":177,"y":-1.0},{"x":182,"y":-1.3},{"x":187,"y":-0.8},{"x":192,"y":-1.1},{"x":197,"y":-1.2},{"x":202,"y":-0.9},{"x":207,"y":-1.1},{"x":212,"y":-1.4},{"x":217,"y":-0.9},{"x":222,"y":-1.2},{"x":227,"y":-0.8},{"x":232,"y":-1.1},{"x":237,"y":-1.3},{"x":242,"y":-0.9},{"x":247,"y":-1.0},{"x":252,"y":-1.2},{"x":257,"y":-0.8},{"x":262,"y":-1.1},{"x":267,"y":-1.3},{"x":272,"y":-0.9},{"x":277,"y":-1.2},{"x":282,"y":-0.8},{"x":287,"y":-1.1},{"x":292,"y":-1.0},{"x":297,"y":-1.3},
{"x":302,"y":1.0},{"x":307,"y":1.1},{"x":312,"y":0.7},{"x":317,"y":1.2},{"x":322,"y":0.9},{"x":327,"y":1.3},{"x":332,"y":1.0},{"x":337,"y":0.8},{"x":342,"y":1.1},{"x":347,"y":1.2},{"x":352,"y":0.8},{"x":357,"y":1.0},{"x":362,"y":1.2},{"x":367,"y":0.9},{"x":372,"y":1.1},{"x":377,"y":0.8},{"x":382,"y":1.3},{"x":387,"y":1.0},{"x":392,"y":0.9},{"x":397,"y":1.2},{"x":402,"y":0.8},{"x":407,"y":1.0},{"x":412,"y":1.1},{"x":417,"y":0.8},{"x":422,"y":1.2},{"x":427,"y":1.0},{"x":432,"y":0.9},{"x":437,"y":1.1},{"x":442,"y":0.8},{"x":447,"y":1.0},
{"x":452,"y":-0.9},{"x":457,"y":-1.2},{"x":462,"y":-1.0},{"x":467,"y":-1.3},{"x":472,"y":-0.8},{"x":477,"y":-1.2},{"x":482,"y":-1.0},{"x":487,"y":-1.4},{"x":492,"y":-0.9},{"x":497,"y":-1.1},
{"x":502,"y":1.1},{"x":507,"y":0.9},{"x":512,"y":1.2},{"x":517,"y":0.8},{"x":522,"y":1.0},{"x":527,"y":1.3},{"x":532,"y":0.9},{"x":537,"y":1.1},{"x":542,"y":1.2},{"x":547,"y":0.9},{"x":552,"y":1.0},{"x":557,"y":1.2},{"x":562,"y":0.8},{"x":567,"y":1.3},{"x":572,"y":1.0},{"x":577,"y":0.9},{"x":582,"y":1.1},{"x":587,"y":1.2},{"x":592,"y":0.8},{"x":597,"y":1.0},{"x":602,"y":1.2},{"x":607,"y":0.9},{"x":612,"y":1.1},{"x":617,"y":0.8},{"x":622,"y":1.0},{"x":627,"y":1.2},{"x":632,"y":0.8},{"x":637,"y":1.0},{"x":642,"y":1.1},{"x":647,"y":0.9},
{"x":652,"y":-1.0},{"x":657,"y":-1.2},{"x":662,"y":-0.9},{"x":667,"y":-1.3},{"x":672,"y":-0.8},{"x":677,"y":-1.1},{"x":682,"y":-1.0},{"x":687,"y":-1.3},{"x":692,"y":-0.9},{"x":697,"y":-1.1},{"x":702,"y":-1.2},{"x":707,"y":-0.8},{"x":712,"y":-1.0},{"x":717,"y":-1.2},{"x":722,"y":-0.9},{"x":727,"y":-1.1},{"x":732,"y":-1.3},{"x":737,"y":-0.9},{"x":742,"y":-1.1},{"x":747,"y":-1.0},
{"x":752,"y":1.0},{"x":757,"y":1.2},{"x":762,"y":0.9},{"x":767,"y":1.1},{"x":772,"y":0.8},{"x":777,"y":1.2},{"x":782,"y":1.0},{"x":787,"y":0.9},{"x":792,"y":1.2},{"x":797,"y":0.8},{"x":802,"y":1.1},{"x":807,"y":1.2},{"x":812,"y":0.9},{"x":817,"y":1.0},{"x":822,"y":1.3},{"x":827,"y":0.8},{"x":832,"y":1.1},{"x":837,"y":1.2},{"x":842,"y":0.9},{"x":847,"y":1.0},{"x":852,"y":0.8},{"x":857,"y":1.2},{"x":862,"y":1.0},{"x":867,"y":1.1},{"x":872,"y":0.9},{"x":877,"y":1.2},{"x":882,"y":1.0},{"x":887,"y":0.9},{"x":892,"y":1.1},{"x":897,"y":1.0},
{"x":902,"y":-1.1},{"x":907,"y":-0.9},{"x":912,"y":-1.2},{"x":917,"y":-1.0},{"x":922,"y":-0.8},{"x":927,"y":-1.3},{"x":932,"y":-1.0},{"x":937,"y":-1.1},{"x":942,"y":-1.2},{"x":947,"y":-0.9},{"x":952,"y":-1.1},{"x":957,"y":-1.0},{"x":962,"y":-1.2},{"x":967,"y":-0.8},{"x":972,"y":-1.1},{"x":977,"y":-1.3},{"x":982,"y":-0.9},{"x":987,"y":-1.0},{"x":992,"y":-1.2},{"x":997,"y":-0.8},{"x":1002,"y":-1.1},{"x":1007,"y":-1.0},{"x":1012,"y":-0.9},{"x":1017,"y":-1.2},{"x":1022,"y":-1.0},{"x":1027,"y":-1.1},{"x":1032,"y":-0.8},{"x":1037,"y":-1.2},{"x":1042,"y":-1.0},{"x":1047,"y":-1.1},
{"x":1052,"y":1.1},{"x":1057,"y":0.9},{"x":1062,"y":1.0},{"x":1067,"y":1.2},{"x":1072,"y":1.0},{"x":1077,"y":0.9},{"x":1082,"y":1.3},{"x":1087,"y":1.0},{"x":1092,"y":0.8},{"x":1097,"y":1.1},{"x":1102,"y":1.2},{"x":1107,"y":0.9},{"x":1112,"y":1.0},{"x":1117,"y":1.2},{"x":1122,"y":1.1},{"x":1127,"y":0.9},{"x":1132,"y":1.3},{"x":1137,"y":0.8},{"x":1142,"y":1.0},{"x":1147,"y":1.1},{"x":1152,"y":0.9},{"x":1157,"y":1.2},{"x":1162,"y":1.0},{"x":1167,"y":0.9},{"x":1172,"y":1.1},{"x":1177,"y":1.3},{"x":1182,"y":0.8},{"x":1187,"y":1.0},{"x":1192,"y":1.1},{"x":1197,"y":1.0},
{"x":1202,"y":-0.9},{"x":1207,"y":-1.1},{"x":1212,"y":-1.2},{"x":1217,"y":-0.9},{"x":1222,"y":-1.0},{"x":1227,"y":-1.3},{"x":1232,"y":-0.9},{"x":1237,"y":-1.1},{"x":1242,"y":-1.2},{"x":1247,"y":-1.0},{"x":1252,"y":-1.1},{"x":1257,"y":-0.9},{"x":1262,"y":-1.3},{"x":1267,"y":-1.0},{"x":1272,"y":-0.9},{"x":1277,"y":-1.1},{"x":1282,"y":-1.2},{"x":1287,"y":-1.0},{"x":1292,"y":-1.1},{"x":1297,"y":-1.0},
{"x":1302,"y":1.0},{"x":1307,"y":1.1},{"x":1312,"y":1.2},{"x":1317,"y":0.9},{"x":1322,"y":1.1},{"x":1327,"y":1.0},{"x":1332,"y":0.8},{"x":1337,"y":1.2},{"x":1342,"y":1.0},{"x":1347,"y":1.1},{"x":1352,"y":1.2},{"x":1357,"y":0.8},{"x":1362,"y":1.0},{"x":1367,"y":1.1},{"x":1372,"y":1.2},{"x":1377,"y":0.9},{"x":1382,"y":1.0},{"x":1387,"y":1.2},{"x":1392,"y":0.8},{"x":1397,"y":1.1},{"x":1402,"y":1.0},{"x":1407,"y":0.9},{"x":1412,"y":1.2},{"x":1417,"y":1.0},{"x":1422,"y":0.7},{"x":1427,"y":1.2},{"x":1432,"y":1.0},{"x":1437,"y":1.1},{"x":1442,"y":0.9},{"x":1447,"y":1.0}
]
},
"vconcat": [
{
 "width": 744, "height": 128,
 "data": {"name": "s3"},
 "layer": [
  {"mark": {"type": "line", "color": "#0000ff", "strokeWidth": 1.4},
   "encoding": {
    "x": {"field": "x", "type": "quantitative", "scale": {"domain": [0, 1500], "nice": false, "zero": false}, "axis": {"values": [0, 500, 1000, 1500], "title": "Выборка сигнала при отношении сигнал/шум 3 дБ - не соответствует ТУ", "labelPadding": 13, "titlePadding": 11}},
    "y": {"field": "y", "type": "quantitative", "scale": {"domain": [-3.3, 3.23], "nice": false, "zero": false}, "axis": {"values": [-2, 0, 2], "title": "Амплитуда, В", "labelPadding": 14, "titlePadding": 7}}
   }},
  {"mark": {"type": "line", "strokeOpacity": 0},
   "encoding": {
    "x": {"field": "x", "type": "quantitative", "scale": {"domain": [0, 1500], "nice": false, "zero": false}, "axis": {"orient": "top", "values": [0, 500, 1000, 1500], "labels": false, "title": null}},
    "y": {"field": "y", "type": "quantitative", "scale": {"domain": [-3.3, 3.23], "nice": false, "zero": false}, "axis": {"orient": "right", "values": [-2, 0, 2], "labels": false, "title": null}}
   }}
 ],
 "resolve": {"axis": {"x": "independent", "y": "independent"}}
},
{
 "width": 744, "height": 128,
 "data": {"name": "s5"},
 "layer": [
  {"mark": {"type": "line", "color": "#0000ff", "strokeWidth": 1.4},
   "encoding": {
    "x": {"field": "x", "type": "quantitative", "scale": {"domain": [0, 1500], "nice": false, "zero": false}, "axis": {"values": [0, 500, 1000, 1500], "title": "Выборка сигнала при отношении сигнал/шум 5 дБ - пороговое значение", "labelPadding": 13, "titlePadding": 11}},
    "y": {"field": "y", "type": "quantitative", "scale": {"domain": [-3.2, 3.16], "nice": false, "zero": false}, "axis": {"values": [-2, 0, 2], "title": "Амплитуда, В", "labelPadding": 14, "titlePadding": 7}}
   }},
  {"mark": {"type": "line", "strokeOpacity": 0},
   "encoding": {
    "x": {"field": "x", "type": "quantitative", "scale": {"domain": [0, 1500], "nice": false, "zero": false}, "axis": {"orient": "top", "values": [0, 500, 1000, 1500], "labels": false, "title": null}},
    "y": {"field": "y", "type": "quantitative", "scale": {"domain": [-3.2, 3.16], "nice": false, "zero": false}, "axis": {"orient": "right", "values": [-2, 0, 2], "labels": false, "title": null}}
   }}
 ],
 "resolve": {"axis": {"x": "independent", "y": "independent"}}
},
{
 "width": 744, "height": 128,
 "data": {"name": "s10"},
 "layer": [
  {"mark": {"type": "line", "color": "#0000ff", "strokeWidth": 1.4},
   "encoding": {
    "x": {"field": "x", "type": "quantitative", "scale": {"domain": [0, 1500], "nice": false, "zero": false}, "axis": {"values": [0, 500, 1000, 1500], "title": "Выборка сигнала при отношении сигнал/шум 10 дБ - соответствует ТУ", "labelPadding": 13, "titlePadding": 11}},
    "y": {"field": "y", "type": "quantitative", "scale": {"domain": [-2.3, 2.22], "nice": false, "zero": false}, "axis": {"values": [-2, 0, 2], "title": "Амплитуда, В", "labelPadding": 14, "titlePadding": 7}}
   }},
  {"mark": {"type": "line", "strokeOpacity": 0},
   "encoding": {
    "x": {"field": "x", "type": "quantitative", "scale": {"domain": [0, 1500], "nice": false, "zero": false}, "axis": {"orient": "top", "values": [0, 500, 1000, 1500], "labels": false, "title": null}},
    "y": {"field": "y", "type": "quantitative", "scale": {"domain": [-2.3, 2.22], "nice": false, "zero": false}, "axis": {"orient": "right", "values": [-2, 0, 2], "labels": false, "title": null}}
   }}
 ],
 "resolve": {"axis": {"x": "independent", "y": "independent"}}
}
]
}
